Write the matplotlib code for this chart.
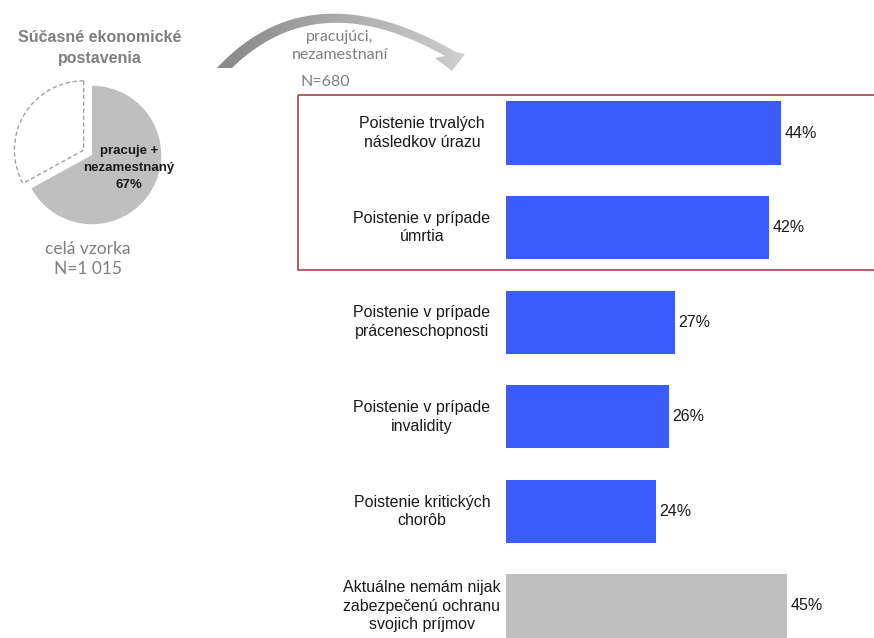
import numpy as np
import matplotlib.pyplot as plt
from matplotlib.colors import LinearSegmentedColormap
from matplotlib.patches import Polygon, Rectangle

# survey results (share of respondents, %)
categories = [
    "Poistenie trvalých\nnásledkov úrazu",
    "Poistenie v prípade\númrtia",
    "Poistenie v prípade\npráceneschopnosti",
    "Poistenie v prípade\ninvalidity",
    "Poistenie kritických\nchorôb",
    "Aktuálne nemám nijak\nzabezpečenú ochranu\nsvojich príjmov",
]
values = [44, 42, 27, 26, 24, 45]
bar_colors = ["#3A5CFB"] * 5 + ["#BFBFBF"]

pie_values = [67, 33]
pie_label = "pracuje +\nnezamestnaný\n67%"

W, H = 874, 638
fig = plt.figure(figsize=(W / 100, H / 100), dpi=100)

# pie chart
pc = (92, 155)
half = 90
pax = fig.add_axes([(pc[0] - half) / W, 1 - (pc[1] + half) / H, 2 * half / W, 2 * half / H])
wedges, _ = pax.pie(pie_values, startangle=90, counterclock=False, radius=1,
                    explode=[0, 0.14], colors=["#BFBFBF", "white"])
wedges[1].set_edgecolor("#A0A0A0")
wedges[1].set_linestyle((0, (3, 2)))
wedges[1].set_linewidth(1.0)
pax.set_xlim(-1.3, 1.3)
pax.set_ylim(-1.3, 1.3)
pax.set_aspect("equal")
pax.axis("off")

# bar chart
px_per_pct = 6.25
step = 94.6
top = 133 - step / 2
bottom = 606 + step / 2
bax = fig.add_axes([506 / W, 1 - bottom / H, (W - 506) / W, (bottom - top) / H])
bax.patch.set_alpha(0)
y = np.arange(len(values))
bax.barh(y, values, height=0.67, color=bar_colors, edgecolor="none")
bax.set_xlim(0, (W - 506) / px_per_pct)
bax.set_ylim(len(values) - 0.5, -0.5)
bax.axis("off")
for yi, v, lab in zip(y, values, categories):
    bax.text(v + 0.6, yi, f"{v}%", va="center", ha="left", fontsize=11.5,
             color="#1A1A1A", family="Liberation Sans")
    bax.text(-13.45, yi, lab, va="center", ha="center", fontsize=11.5,
             color="#1A1A1A", family="Liberation Sans", linespacing=1.3,
             clip_on=False)

# overlay in pixel coordinates for the decorations
over = fig.add_axes([0, 0, 1, 1])
over.set_zorder(5)
over.patch.set_alpha(0)
over.axis("off")

gray_txt = "#7F7F7F"
over.text(100, 48, "Súčasné ekonomické\npostavenia", ha="center", va="center",
          fontsize=11.5, fontweight="bold", color=gray_txt,
          family="Liberation Sans", linespacing=1.45)
over.text(88, 259, "celá vzorka\nN=1 015", ha="center", va="center",
          fontsize=12.5, color=gray_txt, family="Lato", linespacing=1.3)
over.text(340, 46, "pracujúci,\nnezamestnaní", ha="center", va="center",
          fontsize=11.5, color=gray_txt, family="Lato", linespacing=1.4)
over.text(325, 82, "N=680", ha="center", va="center",
          fontsize=11.5, color=gray_txt, family="Lato")

over.text(129, 168, pie_label, ha="center", va="center", fontsize=9.5,
          fontweight="bold", color="#1A1A1A", family="Liberation Sans",
          linespacing=1.6)

# curved arrow with a dark-to-light gradient
def bez(p0, p1, p2, n=60):
    t = np.linspace(0, 1, n)[:, None]
    return (1 - t) ** 2 * np.array(p0) + 2 * (1 - t) * t * np.array(p1) + t ** 2 * np.array(p2)

outer = bez((217, 68), (310, -32), (456, 52))
inner = bez((232, 68), (318, -16), (445, 56))
head = np.array([(465, 54), (452, 71), (435, 58)])
arrow_pts = np.vstack([outer, head, inner[::-1]])
arrow = Polygon(arrow_pts, closed=True, facecolor="none", edgecolor="none")
over.add_patch(arrow)
grad = np.linspace(0, 1, 256)[None, :]
cmap = LinearSegmentedColormap.from_list("arrow_gray", ["#878787", "#CFCFCF"])
im = over.imshow(grad, extent=(215, 467, 74, 8), cmap=cmap, aspect="auto", zorder=1)
im.set_clip_path(arrow)

# red frame around the first two items
over.add_patch(Rectangle((298, 95), 590, 175, fill=False, edgecolor="#B0505A",
                         linewidth=1.3, clip_on=False))

over.set_xlim(0, W)
over.set_ylim(H, 0)

fig.savefig("out.png", dpi=100)
